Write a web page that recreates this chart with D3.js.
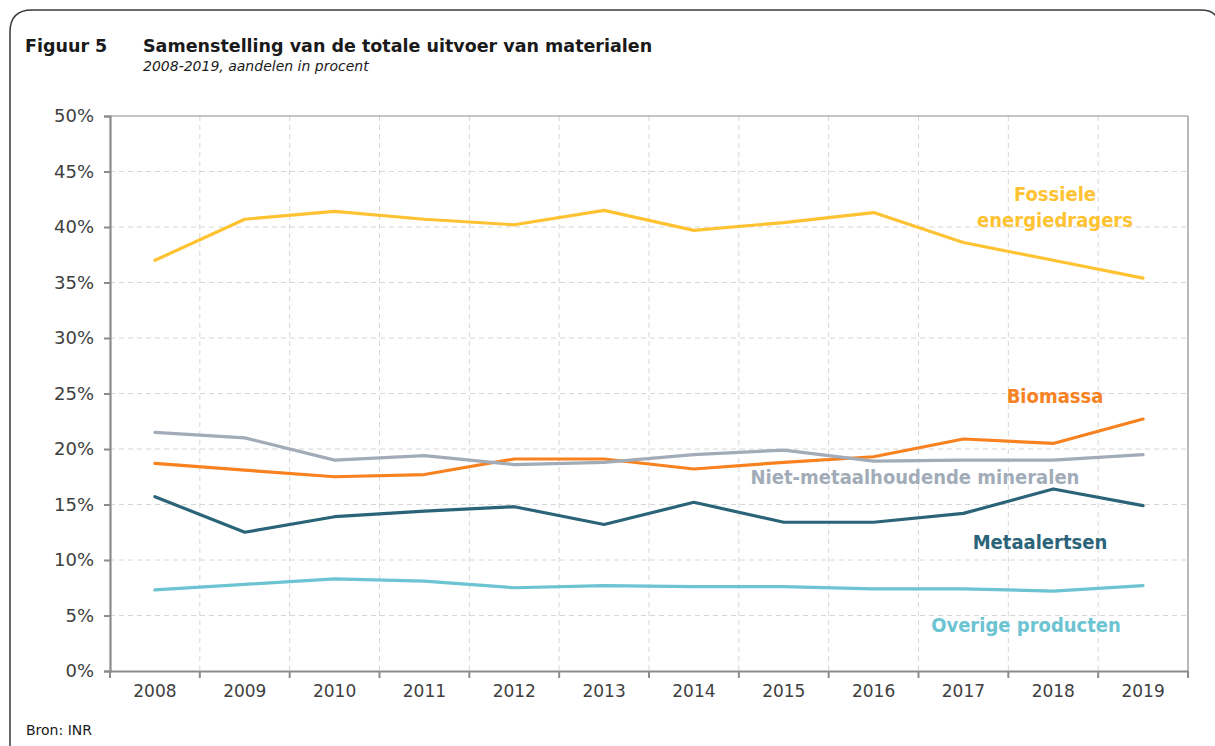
<!DOCTYPE html>
<html><head><meta charset="utf-8">
<script src="https://cdn.jsdelivr.net/npm/d3@7/dist/d3.min.js"></script>
<style>
html,body{margin:0;padding:0;background:#fff;}
text{font-family:"DejaVu Sans",sans-serif;}
</style></head>
<body><svg id="c" width="1215" height="746"></svg>
<script>
const years = ["2008","2009","2010","2011","2012","2013","2014","2015","2016","2017","2018","2019"];
const yTicks = [0,5,10,15,20,25,30,35,40,45,50];
const fossiele = [37.0,40.7,41.4,40.7,40.2,41.5,39.7,40.4,41.3,38.6,37.0,35.4];
const biomassa = [18.7,18.1,17.5,17.7,19.1,19.1,18.2,18.8,19.3,20.9,20.5,22.7];
const nietMetaal = [21.5,21.0,19.0,19.4,18.6,18.8,19.5,19.9,18.9,19.0,19.0,19.5];
const metaalertsen = [15.7,12.5,13.9,14.4,14.8,13.2,15.2,13.4,13.4,14.2,16.4,14.9];
const overige = [7.3,7.8,8.3,8.1,7.5,7.7,7.6,7.6,7.4,7.4,7.2,7.7];
const seriesNames = ["Fossiele energiedragers","Biomassa","Niet-metaalhoudende mineralen","Metaalertsen","Overige producten"];
const seriesColors = ["#fec232","#f7821f","#a1acb8","#2b6479","#6cc3d2"];

const series = [fossiele,biomassa,nietMetaal,metaalertsen,overige];
const svg = d3.select("#c");
const L=110,R=1188,T=116,B=671;
const FC = '"DejaVu Sans Condensed","DejaVu Sans",sans-serif';

// frame
svg.append("path").attr("d","M10,760 L10,32 Q10,10 32,10 L1200,10 Q1212,10 1216,16")
  .attr("fill","none").attr("stroke","#3a3a3a").attr("stroke-width",1.5);

svg.append("text").attr("x",25).attr("y",52).attr("font-weight","bold").attr("font-size",17.5).attr("fill","#1a1a1a").text("Figuur 5");
svg.append("text").attr("x",143).attr("y",52).attr("font-weight","bold").attr("font-size",17.5).attr("fill","#1a1a1a").text("Samenstelling van de totale uitvoer van materialen");
svg.append("text").attr("x",143).attr("y",71).attr("font-style","italic").attr("font-size",14).attr("fill","#1a1a1a").text("2008-2019, aandelen in procent");
svg.append("text").attr("x",26).attr("y",735).attr("font-size",14).attr("fill","#1a1a1a").text("Bron: INR");

const x = d3.scaleBand().domain(years).range([L,R]);
const y = d3.scaleLinear().domain([0,50]).range([B,T]);

const g = svg.append("g");
// grid
g.selectAll(".hg").data(yTicks.filter(d=>d>0&&d<50)).join("line")
  .attr("x1",L).attr("x2",R).attr("y1",d=>y(d)).attr("y2",d=>y(d))
  .attr("stroke","#d6d6d6").attr("stroke-dasharray","5,4").attr("stroke-width",1);
g.selectAll(".vg").data(years.slice(1)).join("line")
  .attr("x1",d=>x(d)).attr("x2",d=>x(d)).attr("y1",T).attr("y2",B)
  .attr("stroke","#d6d6d6").attr("stroke-dasharray","5,4").attr("stroke-width",1);
// top/right border
g.append("line").attr("x1",L).attr("x2",R).attr("y1",T).attr("y2",T).attr("stroke","#8c8c8c").attr("stroke-width",1.2);
g.append("line").attr("x1",R).attr("x2",R).attr("y1",T).attr("y2",B).attr("stroke","#8c8c8c").attr("stroke-width",1.2);

// y axis
const ya = svg.append("g").attr("transform",`translate(${L},0)`)
  .call(d3.axisLeft(y).tickValues(yTicks).tickFormat(d=>d+"%").tickSize(6).tickPadding(10));
ya.select(".domain").attr("stroke","#8c8c8c").attr("stroke-width",2.2);
ya.selectAll(".tick line").attr("stroke","#8c8c8c").attr("stroke-width",2);
ya.selectAll("text").attr("font-size",18).attr("fill","#404040");

// x axis
const xa = svg.append("g").attr("transform",`translate(0,${B})`)
  .call(d3.axisBottom(x).tickSize(0).tickPadding(14));
xa.select(".domain").attr("stroke","#8c8c8c").attr("stroke-width",2.2);
xa.selectAll("text").attr("font-size",17).attr("fill","#404040");
xa.selectAll(".bt").data(years.concat(["end"])).join("line")
  .attr("x1",(d,i)=>i<years.length?x(d):R).attr("x2",(d,i)=>i<years.length?x(d):R)
  .attr("y1",0).attr("y2",7).attr("stroke","#8c8c8c").attr("stroke-width",2);

const line = d3.line().x((d,i)=>x(years[i])+x.bandwidth()/2).y(d=>y(d));
svg.selectAll(".ser").data(series).join("path")
  .attr("d",d=>line(d)).attr("fill","none")
  .attr("stroke",(d,i)=>seriesColors[i]).attr("stroke-width",3.2)
  .attr("stroke-linejoin","round").attr("stroke-linecap","round");

// labels
const labs = [
  {i:0, lines:["Fossiele","energiedragers"], x:1055, y:[201,227]},
  {i:1, lines:["Biomassa"], x:1055, y:[403]},
  {i:2, lines:["Niet-metaalhoudende mineralen"], x:915, y:[484]},
  {i:3, lines:["Metaalertsen"], x:1040, y:[549]},
  {i:4, lines:["Overige producten"], x:1026, y:[632]}
];
labs.forEach(l=>{
  l.lines.forEach((t,k)=>{
    svg.append("text").attr("x",l.x).attr("y",l.y[k]).attr("text-anchor","middle")
      .style("font-family",FC)
      .attr("font-weight","bold").attr("font-size",20).attr("fill",seriesColors[l.i]).text(t);
  });
});
</script></body></html>
